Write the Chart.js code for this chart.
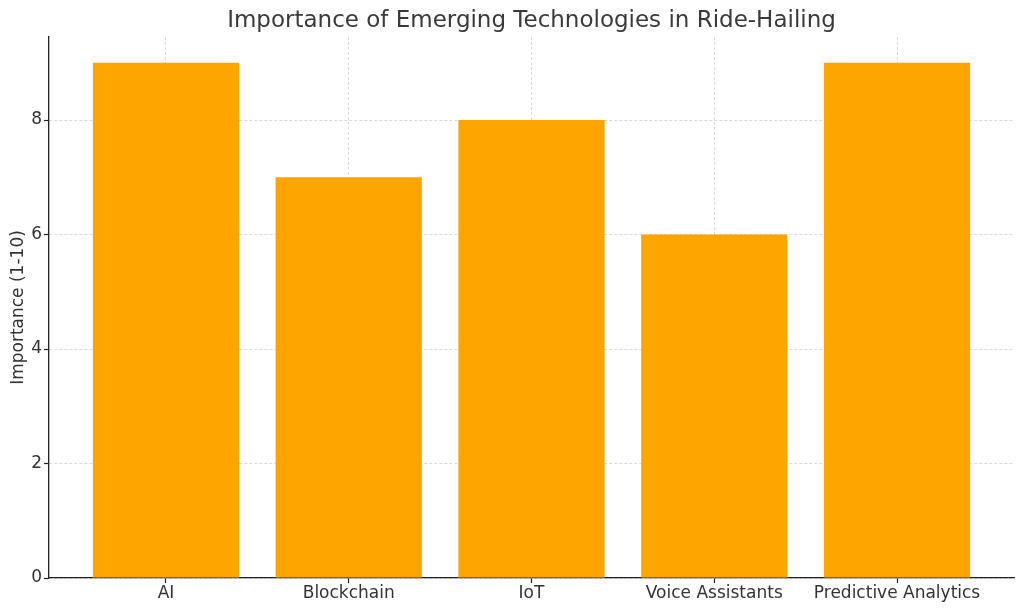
<!DOCTYPE html>
<html>
<head>
<meta charset="utf-8">
<script src="https://cdn.jsdelivr.net/npm/chart.js@4/dist/chart.umd.min.js"></script>
<style>
html,body{margin:0;padding:0;background:#fff;}
#wrap{width:1024px;height:611px;}
</style>
</head>
<body>
<div id="wrap"><canvas id="c" width="1024" height="611"></canvas></div>
<script>
const categories = ['AI', 'Blockchain', 'IoT', 'Voice Assistants', 'Predictive Analytics'];
const importance = [9, 7, 8, 6, 9];
const yTicks = [0, 2, 4, 6, 8];
const titleText = 'Importance of Emerging Technologies in Ride-Hailing';
const yTitle = 'Importance (1-10)';

const points = categories.map((c, i) => ({ x: i, y: importance[i] }));
const FONT = "'DejaVu Sans', sans-serif";
const gridColor = 'rgba(170,170,170,0.55)';
const axisColor = '#222';

new Chart(document.getElementById('c'), {
  type: 'bar',
  data: {
    datasets: [{
      data: points,
      backgroundColor: '#FFA500',
      borderWidth: 0,
      barPercentage: 0.8,
      categoryPercentage: 1.0
    }]
  },
  options: {
    responsive: false,
    animation: false,
    layout: { padding: { left: 0, right: 10, top: 0, bottom: 0 } },
    plugins: {
      legend: { display: false },
      tooltip: { enabled: false },
      title: {
        display: true,
        fullSize: false,
        text: titleText,
        color: '#3a3a3a',
        font: { family: FONT, size: 23, weight: 'normal' },
        padding: { top: 7, bottom: 2.4 }
      }
    },
    scales: {
      x: {
        type: 'linear',
        min: -0.64,
        max: 4.64,
        offset: false,
        z: 1,
        afterBuildTicks: (s) => { s.ticks = categories.map((c, i) => ({ value: i })); },
        afterFit: (s) => { s.height = 33; },
        ticks: {
          color: '#333',
          font: { family: FONT, size: 17 },
          padding: 0,
          maxRotation: 0,
          autoSkip: false,
          callback: (v) => categories[v]
        },
        grid: {
          offset: false,
          color: gridColor,
          lineWidth: 0.8,
          drawTicks: true,
          tickLength: 5,
          tickColor: axisColor,
          tickWidth: 1.2
        },
        border: { display: true, color: axisColor, width: 1.3, dash: [3, 2] }
      },
      y: {
        type: 'linear',
        min: 0,
        max: 9.45,
        z: 1,
        afterBuildTicks: (s) => { s.ticks = yTicks.map(v => ({ value: v })); },
        afterFit: (s) => { s.width = 49; },
        ticks: {
          color: '#333',
          font: { family: FONT, size: 17 },
          padding: 2,
          callback: (v) => String(v)
        },
        grid: {
          color: gridColor,
          lineWidth: 0.8,
          drawTicks: true,
          tickLength: 5,
          tickColor: axisColor,
          tickWidth: 1.2
        },
        border: { display: true, color: axisColor, width: 1.3, dash: [3, 2] },
        title: {
          display: true,
          text: yTitle,
          color: '#333',
          font: { family: FONT, size: 17 },
          padding: { top: 8, bottom: 0 }
        }
      }
    }
  }
});
</script>
</body>
</html>
